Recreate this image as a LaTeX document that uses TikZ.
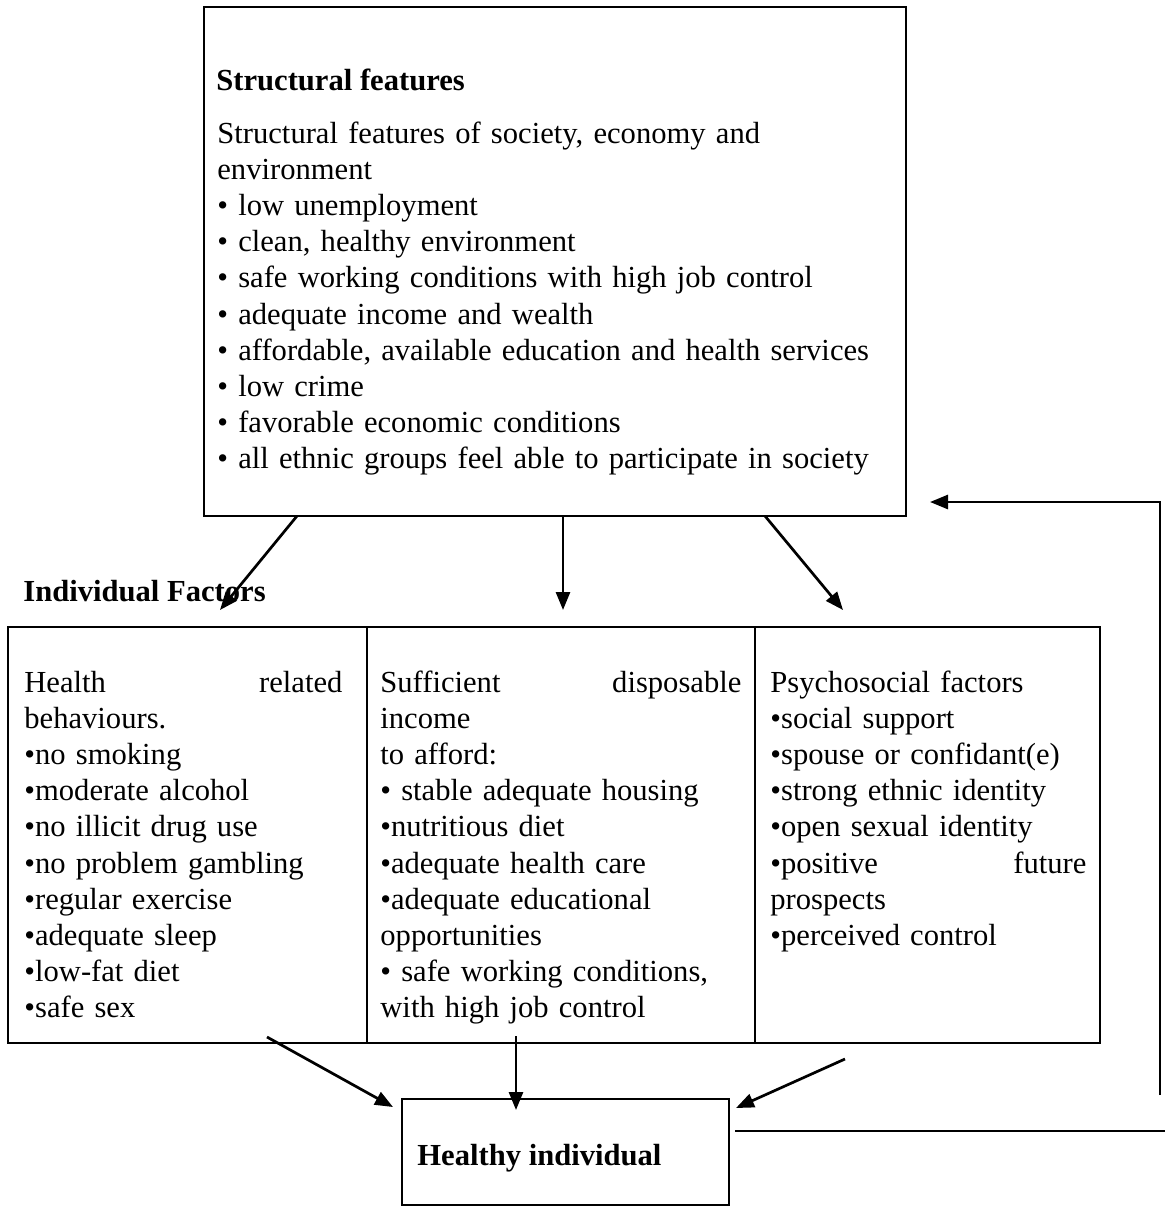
\documentclass[tikz,border=0pt]{standalone}
\usepackage{fontspec}
\setmainfont{Liberation Serif}
\usetikzlibrary{arrows.meta}
\setlength{\parindent}{0pt}
\setlength{\parskip}{0pt}

\begin{document}
\begin{tikzpicture}
            [x=0.5pt, y=-0.5pt, every node/.style={inner sep=0pt},
             box/.style={rectangle, draw=black, line width=0.85pt},
             txt/.style={font=\fontsize{15.3}{18.1}\selectfont, align=left, anchor=base west},
             hd/.style={font=\fontsize{15.3}{18.1}\selectfont\bfseries, anchor=base west},
             arr/.style={line width=1.35pt, -{Triangle[length=9pt, width=7pt]}}]
                \useasboundingbox (0,0) rectangle (1165,1207);
                \node (struct) [box, minimum width=351pt, minimum height=254.5pt] at (555,261.5) {};
                \node (structhead) [hd] at (216,90) {Structural features};
                \node (structtext) [txt, text width=340pt] at (217,143) {Structural features of society, economy and\\
                    environment\\
                    • low unemployment\\
                    • clean, healthy environment\\
                    • safe working conditions with high job control\\
                    • adequate income and wealth\\
                    • affordable, available education and health services\\
                    • low crime\\
                    • favorable economic conditions\\
                    • all ethnic groups feel able to participate in society};
                \node (indiv) [hd] at (23,601) {Individual Factors};
                \node (health) [box, minimum width=179.5pt, minimum height=208pt] at (187.5,835) {};
                \node (income) [box, minimum width=194pt, minimum height=208pt] at (561,835) {};
                \node (psycho) [box, minimum width=172.5pt, minimum height=208pt] at (927.5,835) {};
                \node (healthtext) [txt, text width=159pt] at (24,692) {Health\hfill related\\
                    behaviours.\\
                    •no smoking\\
                    •moderate alcohol\\
                    •no illicit drug use\\
                    •no problem gambling\\
                    •regular exercise\\
                    •adequate sleep\\
                    •low-fat diet\\
                    •safe sex};
                \node (incometext) [txt, text width=180.5pt] at (380,692) {Sufficient\hfill disposable\\
                    income\\
                    to afford:\\
                    • stable adequate housing\\
                    •nutritious diet\\
                    •adequate health care\\
                    •adequate educational\\
                    opportunities\\
                    • safe working conditions,\\
                    with high job control};
                \node (psychotext) [txt, text width=158pt] at (770,692) {Psychosocial factors\\
                    •social support\\
                    •spouse or confidant(e)\\
                    •strong ethnic identity\\
                    •open sexual identity\\
                    •positive\hfill future\\
                    prospects\\
                    •perceived control};
                \node (healthy) [box, minimum width=163.5pt, minimum height=53pt] at (565.5,1152) {};
                \node (healthytext) [hd] at (417,1165) {Healthy individual};
                % arrows from the structural box
                \coordinate (s1) at (297,516);
                \coordinate (s2) at (563,516);
                \coordinate (s3) at (765,516);
                \coordinate (f1) at (220,610);
                \coordinate (f2) at (563,610);
                \coordinate (f3) at (843,610);
                \draw [arr] (s1) to (f1);
                \draw [arr] (s2) to (f2);
                \draw [arr] (s3) to (f3);
                % arrows into the healthy individual
                \coordinate (b1) at (267,1037);
                \coordinate (b2) at (516,1036);
                \coordinate (b3) at (845,1059);
                \coordinate (h1) at (393,1107);
                \coordinate (h2) at (516,1110);
                \coordinate (h3) at (736,1108);
                \draw [arr] (b1) to (h1);
                \draw [arr] (b2) to (h2);
                \draw [arr] (b3) to (h3);
                % feedback
                \coordinate (r1) at (735,1131);
                \coordinate (r2) at (1165,1131);
                \coordinate (r3) at (1160,1095);
                \coordinate (r4) at (1160,502);
                \coordinate (r5) at (930,502);
                \draw [line width=1.35pt] (r1) -- (r2);
                \draw [arr] (r3) -- (r4) -- (r5);
            \end{tikzpicture}
\end{document}
